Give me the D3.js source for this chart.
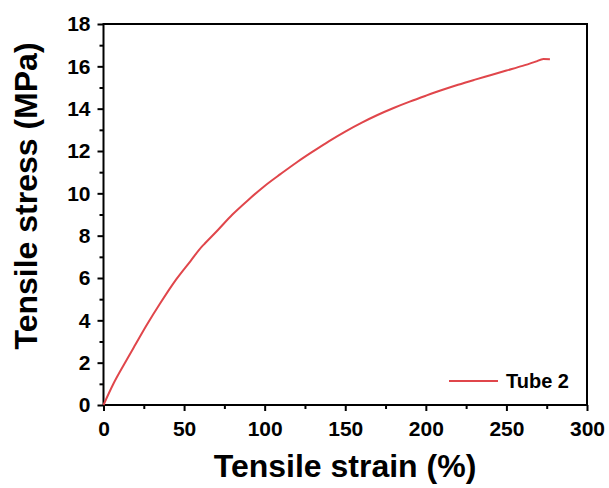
<!DOCTYPE html>
<html>
<head>
<meta charset="utf-8">
<script src="https://cdn.jsdelivr.net/npm/d3@7"></script>
<style>
  body { margin: 0; background: #fff; }
  svg, svg text { font-family: "Liberation Sans", Arial, sans-serif; }
</style>
</head>
<body>
<figure id="chart" style="margin:0"></figure>
<script>
// data
const strain = [0, 6, 13, 20, 27, 35, 45, 54, 61, 63, 71, 80, 90, 100, 110, 120, 130, 140, 150, 160, 170, 180, 190, 200, 210, 220, 230, 240, 250, 260, 268, 273, 277];
const stress = [0, 0.98, 1.95, 2.88, 3.8, 4.78, 5.92, 6.8, 7.48, 7.64, 8.27, 9.0, 9.7, 10.35, 10.92, 11.47, 11.98, 12.47, 12.92, 13.33, 13.7, 14.03, 14.33, 14.61, 14.88, 15.13, 15.36, 15.58, 15.8, 16.02, 16.22, 16.35, 16.34];
const xTicks = [0, 50, 100, 150, 200, 250, 300];
const yTicks = [0, 2, 4, 6, 8, 10, 12, 14, 16, 18];
const seriesName = "Tube 2";

const width = 609, height = 488;
const margin = {top: 24, right: 22, bottom: 83, left: 103.5};
const font = "'Liberation Sans', Arial, sans-serif";

const svg = d3.select("#chart").append("svg")
  .attr("width", width)
  .attr("height", height);

const x = d3.scaleLinear().domain([0, 300]).range([margin.left, width - margin.right]);
const y = d3.scaleLinear().domain([0, 18]).range([height - margin.bottom, margin.top]);

const xMinor = d3.range(25, 300, 50);
const yMinor = d3.range(1, 18, 2);

// minor ticks
svg.append("g")
  .attr("transform", "translate(0," + y(0) + ")")
  .call(d3.axisBottom(x).tickValues(xMinor).tickSize(4).tickFormat(""))
  .call(g => g.select(".domain").remove())
  .selectAll("line").attr("stroke-width", 2);
svg.append("g")
  .attr("transform", "translate(" + x(0) + ",0)")
  .call(d3.axisLeft(y).tickValues(yMinor).tickSize(4).tickFormat(""))
  .call(g => g.select(".domain").remove())
  .selectAll("line").attr("stroke-width", 2);

// major axes
const xAxis = svg.append("g")
  .attr("transform", "translate(0," + y(0) + ")")
  .call(d3.axisBottom(x).tickValues(xTicks).tickSize(6).tickPadding(10).tickSizeOuter(0));
const yAxis = svg.append("g")
  .attr("transform", "translate(" + x(0) + ",0)")
  .call(d3.axisLeft(y).tickValues(yTicks).tickSize(6).tickPadding(7).tickSizeOuter(0));

[xAxis, yAxis].forEach(g => {
  g.attr("font-family", font).attr("font-size", 21).attr("font-weight", "bold");
  g.select(".domain").remove();
  g.selectAll("line").attr("stroke-width", 2);
  g.selectAll("text").attr("fill", "#000");
});

// frame
svg.append("rect")
  .attr("x", x(0))
  .attr("y", y(18))
  .attr("width", x(300) - x(0))
  .attr("height", y(0) - y(18))
  .attr("fill", "none")
  .attr("stroke", "#000")
  .attr("stroke-width", 2);

// curve
const pts = strain.map((s, i) => [s, stress[i]]);
svg.append("path")
  .datum(pts)
  .attr("fill", "none")
  .attr("stroke", "#e0464b")
  .attr("stroke-width", 2)
  .attr("stroke-linejoin", "round")
  .attr("d", d3.line().x(d => x(d[0])).y(d => y(d[1])).curve(d3.curveMonotoneX));

// legend
svg.append("line")
  .attr("x1", 449).attr("x2", 498)
  .attr("y1", 381).attr("y2", 381)
  .attr("stroke", "#e0464b")
  .attr("stroke-width", 2);
svg.append("text")
  .attr("x", 506).attr("y", 388)
  .text(seriesName)
  .style("font-size", "20px")
  .style("font-weight", "bold");

// axis titles
svg.append("text")
  .attr("x", 345).attr("y", 477)
  .attr("text-anchor", "middle")
  .text("Tensile strain (%)")
  .style("font-size", "32px")
  .style("font-weight", "bold");

svg.append("text")
  .attr("transform", "translate(37,196) rotate(-90)")
  .attr("text-anchor", "middle")
  .text("Tensile stress (MPa)")
  .style("font-size", "32px")
  .style("font-weight", "bold");
</script>
</body>
</html>
